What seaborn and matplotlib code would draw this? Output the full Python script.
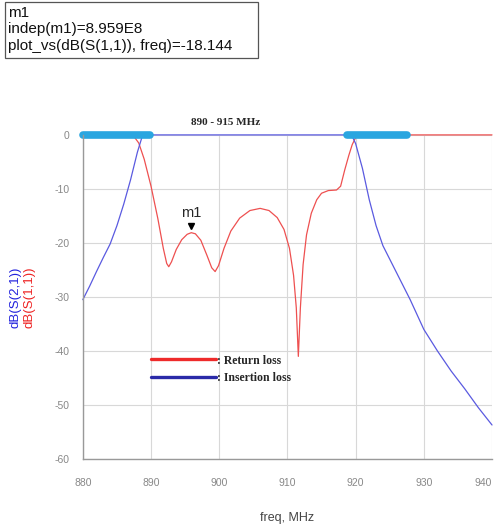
import matplotlib
matplotlib.use('Agg')
import matplotlib.pyplot as plt
import seaborn as sns
from matplotlib.patches import Rectangle
from matplotlib.lines import Line2D

# S11 (return loss), MHz / dB
s11_freq = [880, 886, 887.5, 888.2, 889, 890, 891, 891.8, 892.3, 892.6, 893, 893.7,
            894.5, 895.3, 895.9, 896.5, 897.3, 898.2, 898.9, 899.4, 899.9, 900.7,
            901.7, 903, 904.5, 906, 907.3, 908.5, 909.5, 910.3, 910.9, 911.3, 911.6,
            911.9, 912.3, 912.8, 913.5, 914.3, 915, 916, 917.2, 917.8, 918.4, 919,
            919.5, 920, 921, 940]
s11_db = [0, 0, -0.3, -1.5, -4.5, -9.5, -15.5, -21, -23.8, -24.4, -23.5, -21.2,
          -19.4, -18.4, -18.1, -18.3, -19.5, -22.3, -24.6, -25.3, -24.2, -21,
          -17.8, -15.4, -14, -13.6, -14, -15.3, -17.5, -21, -26, -32, -41,
          -32, -24, -18.5, -14.5, -12, -10.8, -10.3, -10.2, -9.5, -6.5, -3.8,
          -1.8, -0.5, 0, 0]

# S21 (insertion loss)
s21_freq = [880, 881, 882, 883, 884, 885, 886, 887, 888, 888.7, 889.5, 919.4,
            920, 921, 922, 923, 924, 925, 926, 928, 930, 932, 934, 936, 938, 940]
s21_db = [-30.5, -28, -25.3, -22.7, -20.2, -16.8, -12.8, -8.3, -3.2, -0.3, 0, 0,
          -1.6, -6.2, -12, -16.8, -20.5, -23, -25.5, -30.5, -36, -40, -43.7, -47,
          -50.5, -53.7]

# thick cyan highlight bands at 0 dB
band_start = [880, 918.7]
band_end = [889.8, 927.5]

# marker m1
m1_freq = 895.9
m1_db = -18.144

band_label = '890 - 915 MHz'
x_ticks = [880, 890, 900, 910, 920, 930, 940]
y_ticks = [-60, -50, -40, -30, -20, -10, 0]

sns.set_style('white')
plt.rcParams['font.family'] = ['Liberation Sans', 'DejaVu Sans']
plt.rcParams['axes.unicode_minus'] = False

fig = plt.figure(figsize=(4.99, 5.27), dpi=100)
ax = fig.add_axes([0.166, 0.129, 0.82, 0.615])

# curves
sns.lineplot(x=s11_freq, y=s11_db, ax=ax, color='#ee5050', lw=0.9, clip_on=False)
sns.lineplot(x=s21_freq, y=s21_db, ax=ax, color='#5a5ae0', lw=0.9, clip_on=False)

for x0, x1 in zip(band_start, band_end):
    sns.lineplot(x=[x0, x1], y=[0, 0], ax=ax, color='#2aa6e0', lw=5.5,
                 clip_on=False, solid_capstyle='round')

ax.set_xlim(880, 940)
ax.set_ylim(-60, 0)
ax.set_xticks(x_ticks)
ax.set_yticks(y_ticks)
ax.set_xticks(range(880, 941, 2), minor=True)
ax.set_yticks(range(-60, 1, 5), minor=True)
ax.tick_params(axis='both', which='major', labelsize=7.5, colors='#888888',
               length=6, width=0.8, direction='out')
ax.tick_params(axis='x', which='major', pad=8)
ax.tick_params(axis='x', which='minor', length=4, width=0.8, color='#888888',
               direction='out')
ax.tick_params(axis='y', which='minor', length=4, width=0.8, color='#888888',
               direction='out')
# last x label sits at the right edge of the figure; keep it inside
ax.get_xticklabels()[-1].set_horizontalalignment('right')
ax.grid(True, which='major', color='#d8d8d8', lw=0.8)
for s in ['top', 'right']:
    ax.spines[s].set_visible(False)
for s in ['left', 'bottom']:
    ax.spines[s].set_color('#999999')
    ax.spines[s].set_linewidth(1.0)

ax.set_xlabel('freq, MHz', fontsize=9, color='#444444', labelpad=17)

# marker
ax.plot([m1_freq], [m1_db + 1.2], marker='v', color='black', markersize=5, ls='none')
ax.text(m1_freq, m1_db + 2.4, 'm1', ha='center', va='bottom', fontsize=10.5)

ax.text(900.9, 1.4, band_label, ha='center', va='bottom', fontsize=8,
        fontweight='bold', family=['Liberation Serif', 'DejaVu Serif'])

# legend
handles = [Line2D([], [], color='#ee2a2a', lw=2.4),
           Line2D([], [], color='#2a2aa8', lw=2.4)]
leg = ax.legend(handles, [': Return loss', ': Insertion loss'], frameon=False,
                loc='upper left', bbox_to_anchor=(0.14, 0.355), handlelength=5.5,
                handletextpad=0.1, labelspacing=0.45,
                prop={'family': 'Liberation Serif', 'weight': 'bold', 'size': 8.5})

# y labels
fig.text(16 / 499, 1 - 297 / 527, 'dB(S(2,1))', rotation=90, color='#2222dd',
         fontsize=9.5, ha='center', va='center')
fig.text(29 / 499, 1 - 297 / 527, 'dB(S(1,1))', rotation=90, color='#ee2222',
         fontsize=9.5, ha='center', va='center')

# marker readout box
fig.patches.append(Rectangle((5 / 499, 1 - 58 / 527), 253 / 499, 56 / 527,
                             transform=fig.transFigure, fill=False,
                             edgecolor='#555555', lw=0.9))
box_lines = ['m1', 'indep(m1)=8.959E8', 'plot_vs(dB(S(1,1)), freq)=-18.144']
for i, line in enumerate(box_lines):
    fig.text(8 / 499, 1 - (13 + 16.5 * i) / 527, line, fontsize=11,
             ha='left', va='center', color='#111111')

fig.savefig('out.png', dpi=100)
